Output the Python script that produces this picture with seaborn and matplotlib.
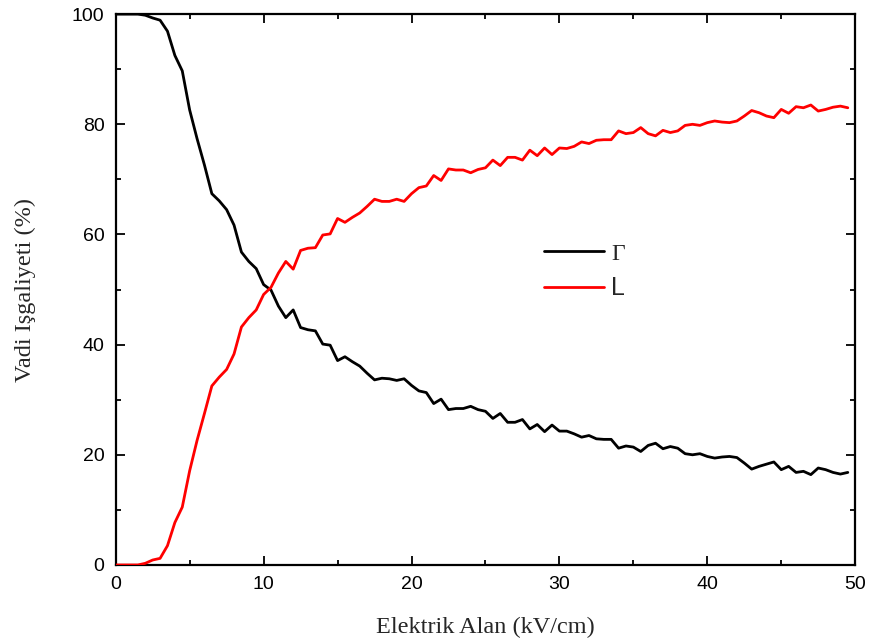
import numpy as np
import pandas as pd
import matplotlib
matplotlib.use('Agg')
import matplotlib.pyplot as plt
import seaborn as sns
from matplotlib.ticker import MultipleLocator

# elektrik alan (kV/cm), 0.5 adim
field = np.arange(0, 50, 0.5)

gamma = [100, 100, 100, 100, 99.8, 99.3, 98.9, 96.9, 92.5, 89.7,
         82.6, 77.4, 72.6, 67.4, 66.1, 64.5, 61.7, 56.8, 55.1, 53.8,
         50.9, 49.9, 47.0, 44.9, 46.3, 43.1, 42.7, 42.5, 40.1, 39.9,
         37.1, 37.8, 36.9, 36.1, 34.8, 33.6, 33.9, 33.8, 33.5, 33.8,
         32.6, 31.6, 31.3, 29.3, 30.1, 28.2, 28.4, 28.4, 28.8, 28.2,
         27.9, 26.6, 27.5, 25.9, 25.9, 26.4, 24.7, 25.5, 24.2, 25.4,
         24.3, 24.3, 23.8, 23.2, 23.5, 22.9, 22.8, 22.8, 21.2, 21.6,
         21.4, 20.6, 21.7, 22.1, 21.1, 21.5, 21.2, 20.2, 20.0, 20.2,
         19.7, 19.4, 19.6, 19.7, 19.5, 18.5, 17.4, 17.9, 18.3, 18.7,
         17.3, 17.9, 16.8, 17.0, 16.4, 17.6, 17.3, 16.8, 16.5, 16.8]

L_val = [0, 0, 0, 0, 0.3, 0.9, 1.2, 3.5, 7.7, 10.5,
         17.1, 22.6, 27.5, 32.5, 34.1, 35.5, 38.3, 43.2, 44.9, 46.3,
         49.1, 50.4, 53.0, 55.1, 53.7, 57.1, 57.5, 57.6, 59.9, 60.1,
         62.9, 62.2, 63.1, 63.9, 65.1, 66.4, 66.0, 66.0, 66.4, 66.0,
         67.4, 68.5, 68.8, 70.7, 69.8, 71.9, 71.7, 71.7, 71.2, 71.8,
         72.1, 73.5, 72.5, 74.0, 74.0, 73.5, 75.3, 74.3, 75.7, 74.5,
         75.7, 75.6, 76.0, 76.8, 76.5, 77.1, 77.2, 77.2, 78.8, 78.3,
         78.5, 79.4, 78.3, 77.9, 78.9, 78.5, 78.8, 79.8, 80.0, 79.8,
         80.3, 80.6, 80.4, 80.3, 80.6, 81.5, 82.5, 82.1, 81.5, 81.2,
         82.7, 82.0, 83.2, 83.0, 83.5, 82.4, 82.7, 83.1, 83.3, 83.0]

sns.set_style('ticks')
plt.rcParams['font.family'] = ['Liberation Sans', 'DejaVu Sans']

fig, ax = plt.subplots(figsize=(8.7, 6.42), dpi=100)
fig.subplots_adjust(left=0.133, right=0.983, top=0.978, bottom=0.12)

sns.lineplot(x=field, y=gamma, ax=ax, color='black', lw=2.0, label='Γ', zorder=3)
sns.lineplot(x=field, y=L_val, ax=ax, color='#ff0000', lw=2.0, label='L', zorder=3)

ax.set_xlim(0, 50)
ax.set_ylim(0, 100)
ax.xaxis.set_major_locator(MultipleLocator(10))
ax.xaxis.set_minor_locator(MultipleLocator(5))
ax.yaxis.set_major_locator(MultipleLocator(20))
ax.yaxis.set_minor_locator(MultipleLocator(10))
ax.tick_params(which='both', direction='in', top=True, right=True, width=1.3, labelsize=14, colors='black')
ax.tick_params(which='major', length=6.5, pad=8)
ax.tick_params(which='minor', length=3.5)
for s in ax.spines.values():
    s.set_linewidth(1.6)
    s.set_color('black')

ax.set_xlabel('Elektrik Alan (kV/cm)', family='Liberation Serif', fontsize=17.5, labelpad=17)
ax.set_ylabel('Vadi Işgaliyeti (%)', family='Liberation Serif', fontsize=17.5, labelpad=26)

leg = ax.legend(loc='upper left', bbox_to_anchor=(0.579, 0.585), frameon=False,
                handlelength=2.4, handletextpad=0.3, labelspacing=0.45, borderpad=0,
                borderaxespad=0, fontsize=18)
texts = leg.get_texts()
texts[0].set_family('Liberation Serif')
texts[0].set_fontsize(17)

fig.savefig('out.png', dpi=100)
